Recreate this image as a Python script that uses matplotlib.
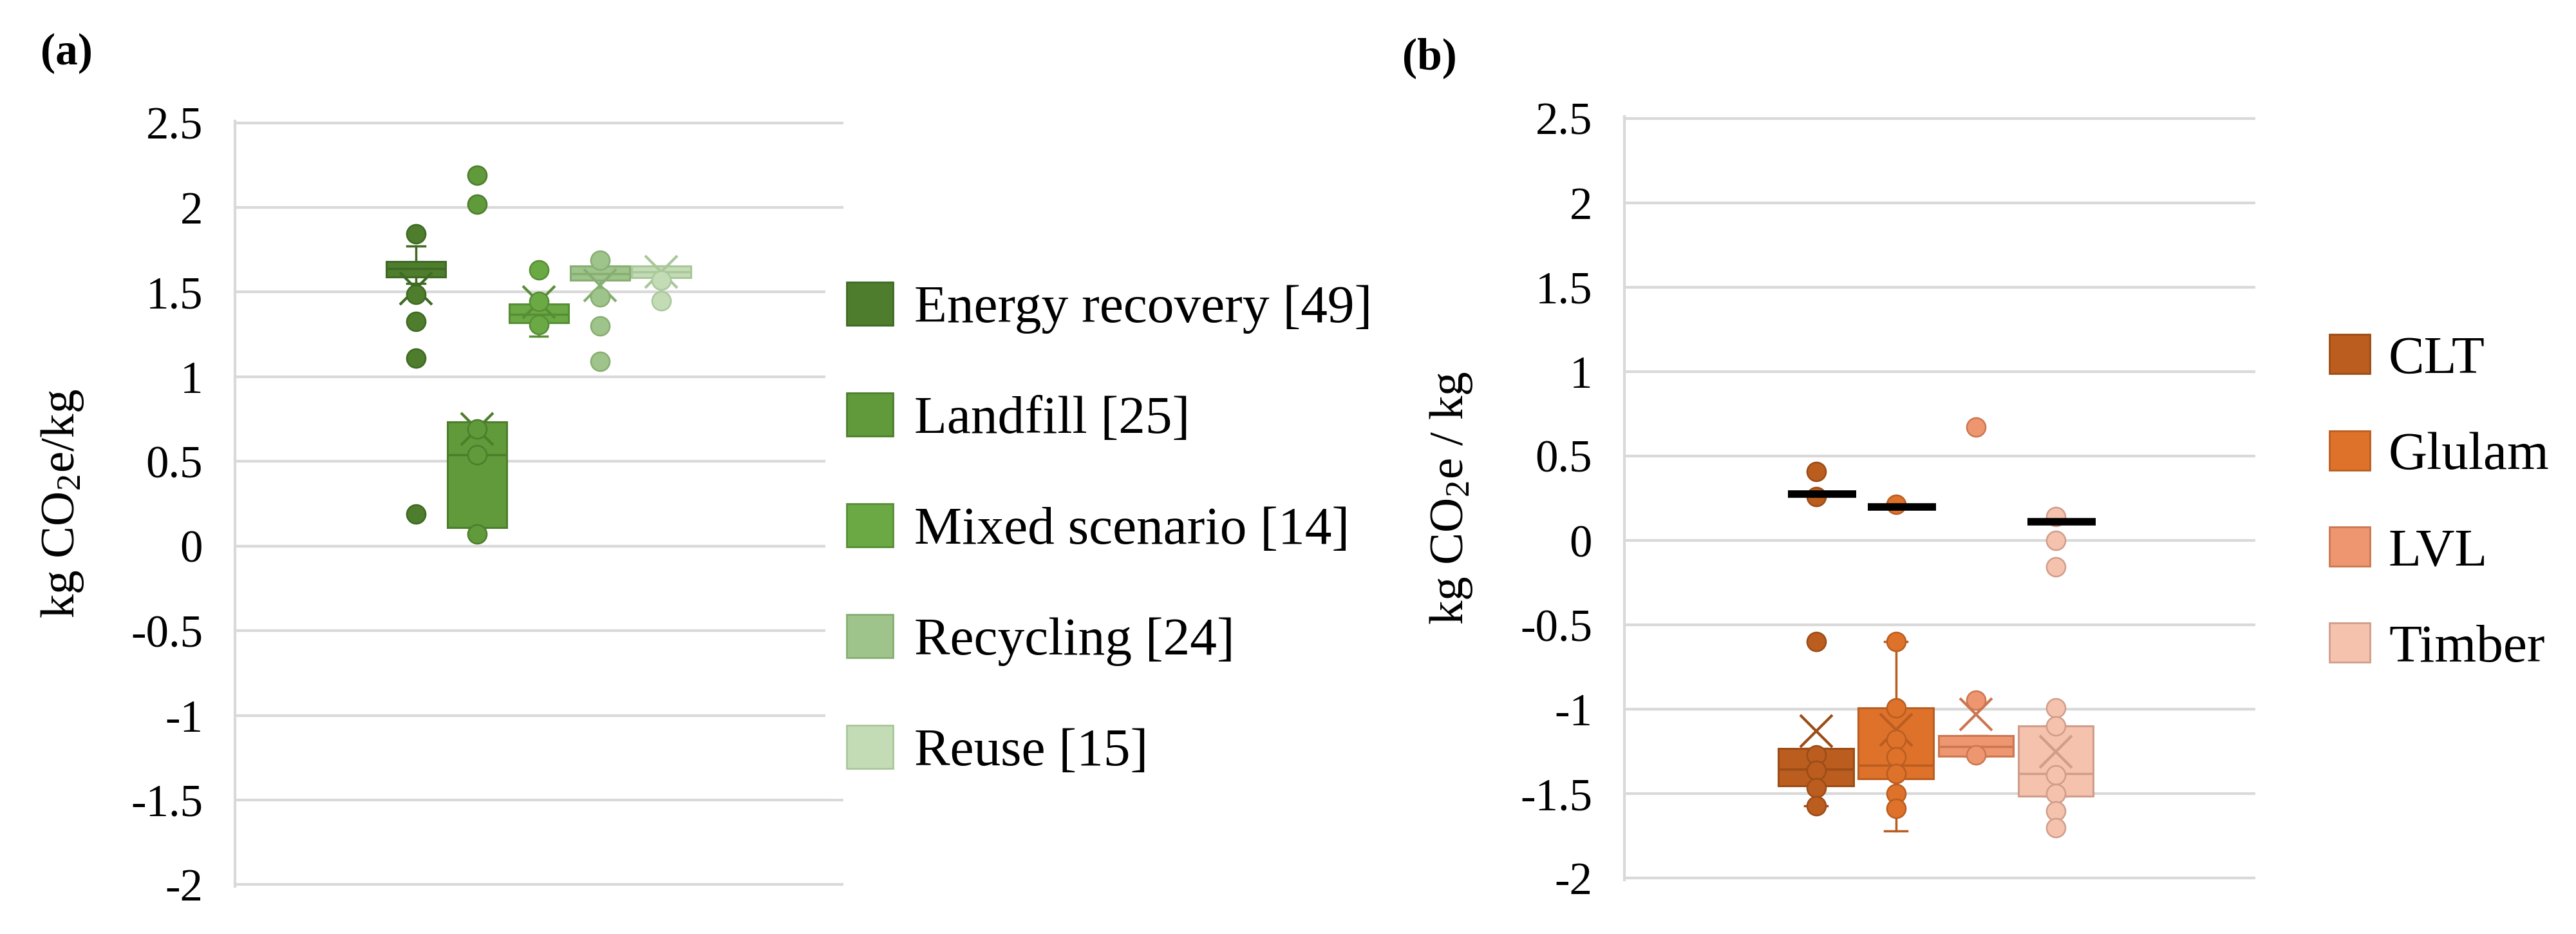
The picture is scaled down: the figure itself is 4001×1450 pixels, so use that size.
import matplotlib
matplotlib.use('Agg')
import matplotlib.pyplot as plt
from matplotlib.patches import Patch
import numpy as np

plt.rcParams['font.family'] = ['Liberation Serif', 'DejaVu Serif']
plt.rcParams['mathtext.fontset'] = 'custom'
plt.rcParams['mathtext.rm'] = 'Liberation Serif'
plt.rcParams['mathtext.it'] = 'Liberation Serif:italic'

# (a) end-of-life scenarios
scenarios = ['Energy recovery [49]', 'Landfill [25]', 'Mixed scenario [14]', 'Recycling [24]', 'Reuse [15]']
q1_a = [1.59, 0.11, 1.32, 1.57, 1.585]
med_a = [1.64, 0.54, 1.37, 1.61, 1.62]
q3_a = [1.68, 0.735, 1.43, 1.655, 1.655]
whislo_a = [1.55, 0.11, 1.24, 1.47, 1.585]
whishi_a = [1.77, 0.735, 1.43, 1.69, 1.655]
mean_a = [1.52, 0.69, 1.44, 1.54, 1.62]
points_a = [
    [1.846, 1.485, 1.326, 1.11, 0.19],
    [2.19, 2.02, 0.69, 0.54, 0.07],
    [1.63, 1.443, 1.308],
    [1.69, 1.47, 1.30, 1.09],
    [1.57, 1.45],
]
fill_a = ['#4E7D2D', '#609A3B', '#6BA945', '#9FC48B', '#C3DCB5']
edge_a = ['#3E6A22', '#4C7E2C', '#568E35', '#86AE72', '#A9C79A']

# (b) wood products
products = ['CLT', 'Glulam', 'LVL', 'Timber']
q1_b = [-1.455, -1.41, -1.278, -1.515]
med_b = [-1.355, -1.33, -1.22, -1.38]
q3_b = [-1.23, -0.99, -1.155, -1.10]
whislo_b = [-1.57, -1.72, -1.278, -1.515]
whishi_b = [-1.23, -0.60, -1.155, -1.10]
mean_b = [-1.13, -1.12, -1.03, -1.25]
points_b = [
    [0.41, 0.26, -0.60, -1.27, -1.36, -1.465, -1.57],
    [0.215, -0.60, -0.99, -1.18, -1.28, -1.38, -1.50, -1.585],
    [0.67, -0.945, -1.27],
    [0.14, 0.0, -0.157, -0.99, -1.10, -1.39, -1.50, -1.60, -1.70],
]
ref_b = [0.275, 0.20, np.nan, 0.11]
fill_b = ['#BA5D1F', '#DE722B', '#EE9670', '#F5C2AE']
edge_b = ['#9C4C17', '#B95D21', '#CB7751', '#D09D8A']

yticks = [2.5, 2, 1.5, 1, 0.5, 0, -0.5, -1, -1.5, -2]
ytick_labels = ['2.5', '2', '1.5', '1', '0.5', '0', '-0.5', '-1', '-1.5', '-2']

W, H = 4001, 1450
fig = plt.figure(figsize=(W / 100, H / 100), dpi=100)
ax1 = fig.add_axes([365 / W, 1 - 1376 / H, 945 / W, 1188 / H])
ax2 = fig.add_axes([2523 / W, 1 - 1366 / H, 980 / W, 1185 / H])


def draw_panel(ax, q1, med, q3, lo, hi, means, points, fills, edges, width, xlim):
    pos = np.arange(1, len(q1) + 1)
    stats = []
    for i in range(len(q1)):
        stats.append(dict(q1=q1[i], med=med[i], q3=q3[i], whislo=lo[i], whishi=hi[i],
                          mean=means[i], fliers=[]))
    bp = ax.bxp(stats, positions=pos, widths=width, capwidths=width * 0.3,
                patch_artist=True, showfliers=False, manage_ticks=False)
    for i in range(len(q1)):
        bp['boxes'][i].set(facecolor=fills[i], edgecolor=edges[i], linewidth=2.2, zorder=2)
        bp['medians'][i].set(color=edges[i], linewidth=2.5, zorder=2.1)
        for ln in bp['whiskers'][2 * i:2 * i + 2] + bp['caps'][2 * i:2 * i + 2]:
            ln.set(color=edges[i], linewidth=2.5, zorder=1.9)
        ax.plot(pos[i], means[i], marker='x', ms=36, mew=3, color=edges[i], zorder=3,
                linestyle='none')
        ax.plot([pos[i]] * len(points[i]), points[i], marker='o', linestyle='none', ms=21,
                mfc=fills[i], mec=edges[i], mew=1.8, zorder=4)

    ax.set_xlim(*xlim)
    ax.set_ylim(-2.01, 2.51)
    ax.set_yticks(yticks)
    ax.set_yticklabels(ytick_labels)
    ax.set_xticks([])
    ax.yaxis.grid(True, color='#D9D9D9', linewidth=3)
    ax.set_axisbelow(True)
    for s in ['top', 'right', 'bottom']:
        ax.spines[s].set_visible(False)
    ax.spines['left'].set_color('#D9D9D9')
    ax.spines['left'].set_linewidth(3)
    ax.tick_params(axis='y', length=0, pad=36, labelsize=51)


draw_panel(ax1, q1_a, med_a, q3_a, whislo_a, whishi_a, mean_a, points_a,
           fill_a, edge_a, 0.966, (-1.95, 7.97))
draw_panel(ax2, q1_b, med_b, q3_b, whislo_b, whishi_b, mean_b, points_b,
           fill_b, edge_b, 0.94, (-1.40, 6.50))

# black reference dashes in (b)
pos_b = np.arange(1, len(products) + 1)
for i in range(len(products)):
    if not np.isnan(ref_b[i]):
        ax2.plot([pos_b[i] - 0.35, pos_b[i] + 0.5], [ref_b[i], ref_b[i]], color='black',
                 linewidth=8.4, solid_capstyle='butt', zorder=5)

ax1.set_ylabel(r'kg CO$_\mathregular{2}$e/kg', fontsize=54)
ax1.yaxis.set_label_coords(-0.2836, 0.5)
ax1.yaxis.label.set_va('center')
ax2.set_ylabel(r'kg CO$_\mathregular{2}$e / kg', fontsize=54)
ax2.yaxis.set_label_coords(-0.2745, 0.5)
ax2.yaxis.label.set_va('center')

handles_a = [Patch(facecolor=fill_a[i], edgecolor=edge_a[i], linewidth=2, label=scenarios[i])
             for i in range(len(scenarios))]
ax1.legend(handles=handles_a, loc='center left', bbox_to_anchor=(1282 / W, 1 - 822 / H),
           bbox_transform=fig.transFigure, fontsize=60, handlelength=0.86, handleheight=0.86,
           labelspacing=1.1, handletextpad=0.40, borderpad=0.4, borderaxespad=0,
           frameon=True, facecolor='white', edgecolor='none', framealpha=1, fancybox=False)

handles_b = [Patch(facecolor=fill_b[i], edgecolor=edge_b[i], linewidth=2, label=products[i])
             for i in range(len(products))]
ax2.legend(handles=handles_b, loc='center left', bbox_to_anchor=(3585 / W, 1 - 782 / H),
           bbox_transform=fig.transFigure, fontsize=60, handlelength=0.75, handleheight=0.75,
           labelspacing=0.86, handletextpad=0.35, borderpad=0.4, borderaxespad=0,
           frameon=False)

fig.text(63 / W, 1 - 83 / H, '(a)', fontsize=50, fontweight='bold', va='center', ha='left')
fig.text(2178 / W, 1 - 90 / H, '(b)', fontsize=50, fontweight='bold', va='center', ha='left')

fig.savefig('out.png', dpi=100, facecolor='white')
